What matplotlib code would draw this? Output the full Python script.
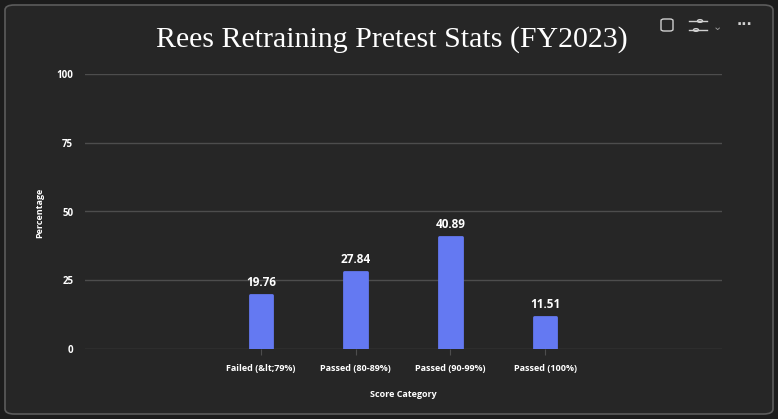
import matplotlib.pyplot as plt
from matplotlib.patches import FancyBboxPatch, Circle

categories = ['Failed (&lt;79%)', 'Passed (80-89%)', 'Passed (90-99%)', 'Passed (100%)']
values = [19.76, 27.84, 40.89, 11.51]
yticks = [0, 25, 50, 75, 100]

W, H = 778, 419
fig = plt.figure(figsize=(W / 100, H / 100), dpi=100)
fig.patch.set_facecolor('#1c1c1c')

# rounded card behind the chart
card = FancyBboxPatch((5 / W, 5 / H), 768 / W, 409 / H,
                      boxstyle='round,pad=0,rounding_size=0.012',
                      transform=fig.transFigure, facecolor='#262626',
                      edgecolor='#5c5c5c', linewidth=1.2, zorder=-5)
fig.patches.append(card)

ax = fig.add_axes([85 / W, 1 - 349 / H, 637 / W, 275 / H])
ax.set_facecolor('none')

bar_color = '#6479f2'
x = list(range(len(categories)))
bars = ax.bar(x, values, width=0.24, color=bar_color, edgecolor=bar_color,
              linewidth=2, joinstyle='round', zorder=3)
for b, v in zip(bars, values):
    ax.text(b.get_x() + b.get_width() / 2, v + 2.2, f'{v:.2f}', ha='center', va='bottom',
            color='white', fontsize=8.5, fontweight='bold', family='Open Sans', zorder=4)

ax.set_xlim(-1.86, 4.87)
ax.set_ylim(0, 100)
ax.set_yticks(yticks)
ax.set_xticks(x)
ax.set_xticklabels(categories)
ax.grid(axis='y', color='#4d4d4d', linewidth=1, zorder=0)
for s in ax.spines.values():
    s.set_visible(False)
ax.tick_params(axis='y', length=0, pad=8.5, labelcolor='white', labelsize=7)
ax.tick_params(axis='x', length=4, color='#4d4d4d', pad=7, labelcolor='white', labelsize=6.5)
for lab in ax.get_xticklabels() + ax.get_yticklabels():
    lab.set_fontweight('bold')
    lab.set_family('Open Sans')

ax.set_xlabel('Score Category', color='white', fontsize=6.5, fontweight='bold',
              family='Open Sans', labelpad=12)
fig.text(40 / W, 1 - 213 / H, 'Percentage', rotation=90, ha='center', va='center',
         color='white', fontsize=6.5, fontweight='bold', family='Open Sans')

fig.text(392 / W, 1 - 40 / H, 'Rees Retraining Pretest Stats (FY2023)', ha='center',
         va='center', color='white', fontsize=21.5, family='Liberation Serif')

# toolbar icons in the corner
icon = '#d0d0d0'
fig.patches.append(FancyBboxPatch((661 / W, 1 - 31 / H), 12 / W, 12 / H,
                                  boxstyle='round,pad=0,rounding_size=0.004',
                                  transform=fig.transFigure, facecolor='none',
                                  edgecolor=icon, linewidth=1))
for yy, cx in [(21, 700), (30, 696)]:
    fig.add_artist(plt.Line2D([689 / W, 707 / W], [1 - yy / H, 1 - yy / H],
                              transform=fig.transFigure, color=icon, linewidth=1))
    fig.patches.append(Circle((cx / W, 1 - yy / H), 2.5 / W, transform=fig.transFigure,
                              facecolor='#262626', edgecolor=icon, linewidth=1))
fig.text(717 / W, 1 - 27 / H, '⌄', ha='center', va='center', color='#9a9a9a', fontsize=8)
fig.text(744 / W, 1 - 25 / H, '···', ha='center', va='center', color=icon,
         fontsize=10, fontweight='bold')

fig.savefig('out.png', dpi=100, facecolor=fig.get_facecolor())
